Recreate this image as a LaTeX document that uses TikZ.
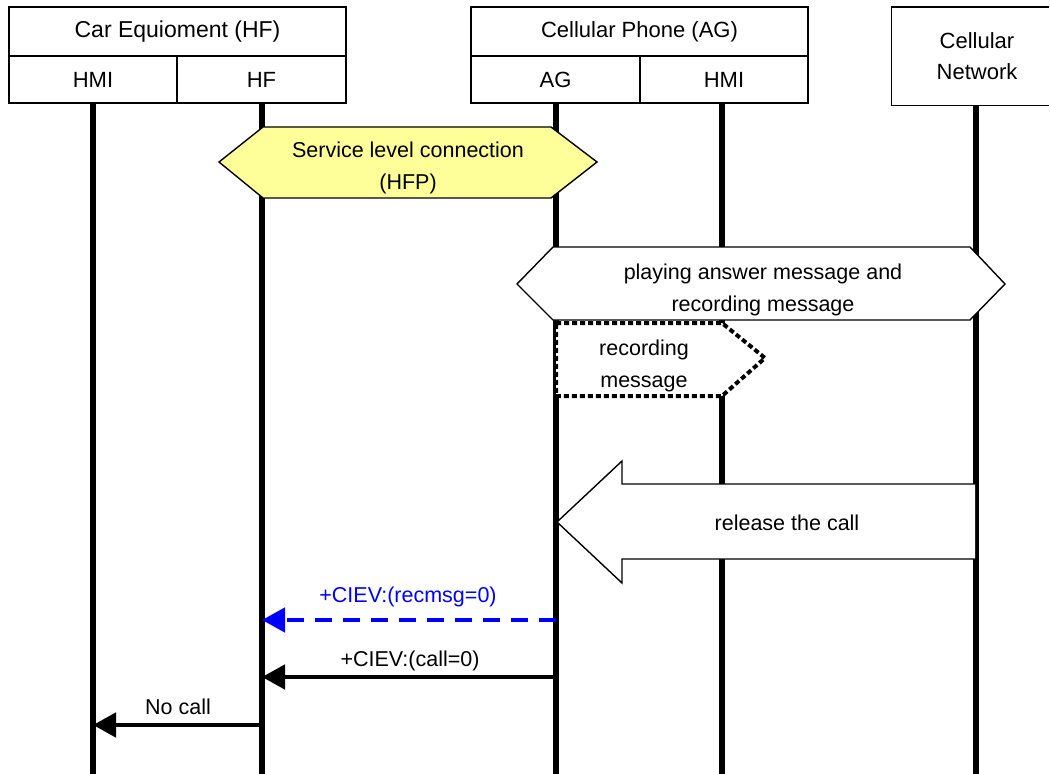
\documentclass[tikz,border=0pt]{standalone}
\usepackage{fontspec}
\setmainfont{Liberation Sans}
\usetikzlibrary{arrows.meta}
\definecolor{hfpyellow}{RGB}{255,255,153}
\definecolor{msgblue}{RGB}{0,0,255}
\tikzset{
  hdr/.style={draw, line width=1.4pt, rectangle, inner sep=0pt, align=center,
    font=\fontsize{22}{31}\selectfont},
  lifeline/.style={line width=5.5pt},
  lbl/.style={align=center, inner sep=0pt, font=\fontsize{21.5}{32}\selectfont},
  msg/.style={line width=4.7pt, -{Triangle[length=23pt,width=24pt]}},
  bluemsg/.style={msg, draw=msgblue, dash pattern=on 17pt off 11pt},
  hexa/.style={draw, line width=1.4pt, line join=miter},
}
\begin{document}
\begin{tikzpicture}[x=1pt,y=-1pt]
\useasboundingbox (0,0) rectangle (1050,774);
\fill[white] (0,0) rectangle (1050,774);

% headers
\node[hdr, minimum width=337pt, minimum height=49pt, font=\fontsize{23}{31}\selectfont] (car) at (177.5,31.5) {Car Equioment (HF)};
\node[hdr, minimum width=168pt, minimum height=47pt] (carhmi) at (93,79.5) {HMI};
\node[hdr, minimum width=169pt, minimum height=47pt] (carhf) at (261.5,79.5) {HF};
\node[hdr, minimum width=337pt, minimum height=49pt] (phone) at (639.5,31.5) {Cellular Phone (AG)};
\node[hdr, minimum width=169pt, minimum height=47pt] (ag) at (555.5,79.5) {AG};
\node[hdr, minimum width=168pt, minimum height=47pt] (phmi) at (724,79.5) {HMI};
\node[hdr, draw=none, minimum width=170pt, minimum height=97pt] (net) at (977,56) {Cellular\\Network};
\draw[line width=1.4pt] ([xshift=158pt]net.north west) -- (net.north west) -- (net.south west) -- ([xshift=158pt]net.south west);

% lifeline ends
\coordinate (e1) at (93,774);
\coordinate (e2) at (262,774);
\coordinate (e3) at (556,774);
\coordinate (e4) at (722,774);
\coordinate (e5) at (976,774);
\draw[lifeline] (carhmi.south -| e1) -- (e1);
\draw[lifeline] (carhf.south -| e2) -- (e2);
\draw[lifeline] (ag.south -| e3) -- (e3);
\draw[lifeline] (phmi.south -| e4) -- (e4);
\draw[lifeline] (net.south -| e5) -- (e5);

% service level connection
\draw[hexa, fill=hfpyellow] (219,162) -- (263,127) -- (551,127) -- (597,162) -- (551,198) -- (263,198) -- cycle;
\node[lbl] (slc) at (408,168) {Service level connection\\(HFP)};

% playing answer message
\draw[hexa, fill=white] (517,284) -- (553,247) -- (970,247) -- (1005,284) -- (970,320) -- (553,320) -- cycle;
\node[lbl] (play) at (763,290) {playing answer message and\\recording message};

% recording message (dotted)
\draw[line width=4pt, dash pattern=on 5pt off 3pt, fill=white] (556,323) -- (722,323) -- (765,358) -- (722,396) -- (556,396) -- cycle;
\node[lbl] (rec) at (644,366) {recording\\message};

% release the call
\draw[hexa, fill=white] (975,484) -- (622,484) -- (622,461) -- (557,522) -- (622,583) -- (622,559) -- (975,559);
\node[lbl] (rel) at (787,523) {release the call};

% messages
\coordinate (m1a) at (556,620);
\coordinate (m1b) at (262,620);
\draw[bluemsg] (m1a) -- (m1b);
\node[lbl, text=msgblue] (l1) at (408,597) {+CIEV:(recmsg=0)};

\coordinate (m2a) at (556,677);
\coordinate (m2b) at (262,677);
\draw[msg] (m2a) -- (m2b);
\node[lbl] (l2) at (410,661) {+CIEV:(call=0)};

\coordinate (m3a) at (262,725);
\coordinate (m3b) at (93,725);
\draw[msg] (m3a) -- (m3b);
\node[lbl] (l3) at (178,707) {No call};
\end{tikzpicture}
\end{document}
